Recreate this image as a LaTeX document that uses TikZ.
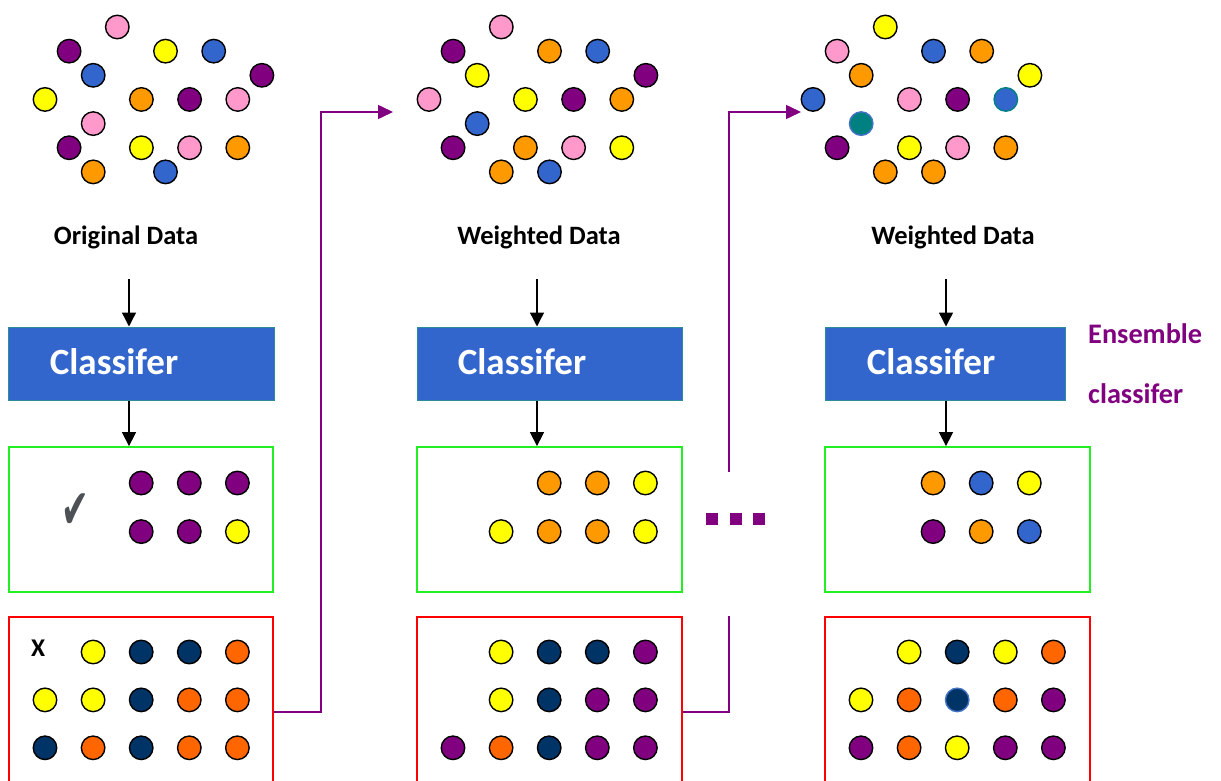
\documentclass[tikz,border=0pt]{standalone}
\usepackage{fontspec}
\setmainfont{Carlito}
\newfontfamily\symfont{DejaVu Sans}
\usetikzlibrary{arrows.meta}

\definecolor{dpurple}{HTML}{800080}
\definecolor{dpink}{HTML}{FF99CC}
\definecolor{dyellow}{HTML}{FFFF00}
\definecolor{dblue}{HTML}{3366CC}
\definecolor{dorange}{HTML}{FF9900}
\definecolor{dnavy}{HTML}{003366}
\definecolor{dred}{HTML}{FF6600}
\definecolor{dteal}{HTML}{008080}
\definecolor{lblue}{HTML}{4472C4}
\definecolor{boxgreen}{HTML}{22EE22}
\definecolor{boxred}{HTML}{FF0000}
\definecolor{clsborder}{HTML}{2E8B9A}
\definecolor{checkgray}{HTML}{4D5055}

\tikzset{
  dot/.style={circle, draw=black, line width=1.4pt, minimum size=23.5pt, inner sep=0pt, fill=#1},
  clsbox/.style={draw=clsborder, line width=1pt, fill=dblue, minimum height=73pt, inner sep=0pt},
  clstext/.style={text=white, font=\fontsize{37}{40}\selectfont\bfseries, inner sep=0pt, anchor=base},
  lbl/.style={font=\fontsize{26.5}{28}\selectfont\bfseries, inner sep=0pt, anchor=base},
  goodbox/.style={draw=boxgreen, line width=1.8pt, minimum height=145pt, inner sep=0pt},
  badbox/.style={draw=boxred, line width=1.6pt, minimum height=184pt, inner sep=0pt},
  arr/.style={line width=1.4pt, -{Triangle[length=14pt,width=14pt]}},
  conn/.style={draw=dpurple, line width=1.6pt},
  connarr/.style={conn, -{Triangle[length=15pt,width=14pt]}},
  ens/.style={text=dpurple, font=\fontsize{28.3}{30}\selectfont\bfseries, inner sep=0pt, anchor=base west},
  sq/.style={rectangle, fill=dpurple, minimum size=12pt, inner sep=0pt},
}

\begin{document}
\begin{tikzpicture}[x=1pt, y=-1pt]
\useasboundingbox (0,0) rectangle (1221,781);
\clip (0,0) rectangle (1221,781);

% ---- data clouds ----
\foreach \c/\r/\col [count=\i] in {3/0/dpink, 1/1/dpurple, 5/1/dyellow, 7/1/dblue, 2/2/dblue, 9/2/dpurple,
  0/3/dyellow, 4/3/dorange, 6/3/dpurple, 8/3/dpink, 2/4/dpink, 1/5/dpurple, 4/5/dyellow, 6/5/dpink,
  8/5/dorange, 2/6/dorange, 5/6/dblue}
  \node[dot=\col] (a-\i) at ({45+24.1*\c},{27+24.15*\r}) {};

\foreach \c/\r/\col [count=\i] in {3/0/dpink, 1/1/dpurple, 5/1/dorange, 7/1/dblue, 2/2/dyellow, 9/2/dpurple,
  0/3/dpink, 4/3/dyellow, 6/3/dpurple, 8/3/dorange, 2/4/dblue, 1/5/dpurple, 4/5/dorange, 6/5/dpink,
  8/5/dyellow, 3/6/dorange, 5/6/dblue}
  \node[dot=\col] (b-\i) at ({429+24.1*\c},{27+24.15*\r}) {};

\foreach \c/\r/\col [count=\i] in {3/0/dyellow, 1/1/dpink, 5/1/dblue, 7/1/dorange, 2/2/dorange, 9/2/dyellow,
  0/3/dblue, 4/3/dpink, 6/3/dpurple, 1/5/dpurple, 4/5/dyellow, 6/5/dpink, 8/5/dorange, 3/6/dorange,
  5/6/dorange}
  \node[dot=\col] (c-\i) at ({813+24.1*\c},{27+24.15*\r}) {};
\node[dot=dblue, draw=dteal] (c-w1) at ({813+24.1*8},{27+24.15*3}) {};
\node[dot=dteal, draw=lblue] (c-w2) at ({813+24.1*2},{27+24.15*4}) {};

% ---- captions ----
\node[lbl] (l1) at (126,244) {Original Data};
\node[lbl] (l2) at (539,244) {Weighted Data};
\node[lbl] (l3) at (953,244) {Weighted Data};

% ---- classifiers ----
\node[clsbox, minimum width=266pt] (k1) at (141,363.5) {};
\node[clsbox, minimum width=265pt] (k2) at (549.5,363.5) {};
\node[clsbox, minimum width=240pt] (k3) at (945,363.5) {};
\node[clstext] (k1t) at (114,374) {Classifer};
\node[clstext] (k2t) at (522,374) {Classifer};
\node[clstext] (k3t) at (931,374) {Classifer};

\node[ens] (e1) at (1088,343) {Ensemble};
\node[ens] (e2) at (1088,403) {classifer};

% ---- correctly classified ----
\node[goodbox, minimum width=264pt] (g1) at (141,519.5) {};
\node[goodbox, minimum width=265pt] (g2) at (549.5,519.5) {};
\node[goodbox, minimum width=265pt] (g3) at (957.5,519.5) {};

% ---- misclassified ----
\node[badbox, minimum width=264pt, anchor=north] (r1) at (141,616) {};
\node[badbox, minimum width=265pt, anchor=north] (r2) at (549.5,616) {};
\node[badbox, minimum width=265pt, anchor=north] (r3) at (957.5,616) {};

% ---- flow arrows ----
\foreach \n/\x in {1/129, 2/537, 3/946} {
  \coordinate (s\n) at (\x,279);
  \draw[arr] (s\n) -- (s\n |- k\n.north);
  \draw[arr] (s\n |- k\n.south) -- (s\n |- g\n.north);
}

% ---- contents of the result boxes ----
\node[text=checkgray, font=\symfont\fontsize{46}{48}\selectfont, inner sep=0pt] (ck) at (75,511)
  {\scalebox{0.72}[1.2]{✔}};
\node[font=\fontsize{25.5}{28}\selectfont\bfseries, inner sep=0pt, anchor=base west] (xx) at (31,656) {X};

\foreach \c/\r/\col [count=\i] in {2/0/dpurple, 3/0/dpurple, 4/0/dpurple, 2/1/dpurple, 3/1/dpurple, 4/1/dyellow}
  \node[dot=\col] (g1-\i) at ({45+48.1*\c},{483+48.6*\r}) {};
\foreach \c/\r/\col [count=\i] in {2/0/dorange, 3/0/dorange, 4/0/dyellow, 1/1/dyellow, 2/1/dorange, 3/1/dorange, 4/1/dyellow}
  \node[dot=\col] (g2-\i) at ({453+48.1*\c},{483+48.6*\r}) {};
\foreach \c/\r/\col [count=\i] in {1/0/dorange, 2/0/dblue, 3/0/dyellow, 1/1/dpurple, 2/1/dorange, 3/1/dblue}
  \node[dot=\col] (g3-\i) at ({885+48.1*\c},{483+48.6*\r}) {};

\foreach \c/\r/\col [count=\i] in {1/0/dyellow, 2/0/dnavy, 3/0/dnavy, 4/0/dred,
  0/1/dyellow, 1/1/dyellow, 2/1/dnavy, 3/1/dred, 4/1/dred,
  0/2/dnavy, 1/2/dred, 2/2/dnavy, 3/2/dred, 4/2/dred}
  \node[dot=\col] (r1-\i) at ({45+48.1*\c},{652+47.9*\r}) {};
\foreach \c/\r/\col [count=\i] in {1/0/dyellow, 2/0/dnavy, 3/0/dnavy, 4/0/dpurple,
  1/1/dyellow, 2/1/dnavy, 3/1/dpurple, 4/1/dpurple,
  0/2/dpurple, 1/2/dred, 2/2/dnavy, 3/2/dpurple, 4/2/dpurple}
  \node[dot=\col] (r2-\i) at ({453+48.1*\c},{652+47.9*\r}) {};
\foreach \c/\r/\col [count=\i] in {1/0/dyellow, 2/0/dnavy, 3/0/dyellow, 4/0/dred,
  0/1/dyellow, 1/1/dred, 3/1/dred, 4/1/dpurple,
  0/2/dpurple, 1/2/dred, 2/2/dyellow, 3/2/dpurple, 4/2/dpurple}
  \node[dot=\col] (r3-\i) at ({861+48.1*\c},{652+47.9*\r}) {};
\node[dot=dnavy, draw=lblue] (r3-w) at ({861+48.1*2},{652+47.9}) {};

% ---- feedback connectors ----
\coordinate (t1) at (393,112);
\coordinate (t2) at (801,112);
\coordinate (v1) at (321,112);
\coordinate (v2) at (729,616);
\coordinate (u2) at (729,472);
\draw[connarr] ([yshift=-96pt]r1.north east) -| (v1) -- (t1);
\draw[conn] ([yshift=-96pt]r2.north east) -| (v2);
\draw[connarr] (u2) |- (t2);

% ---- continuation marks ----
\node[sq] (q1) at (712,519) {};
\node[sq] (q2) at (736,519) {};
\node[sq] (q3) at (759,519) {};
\end{tikzpicture}
\end{document}
